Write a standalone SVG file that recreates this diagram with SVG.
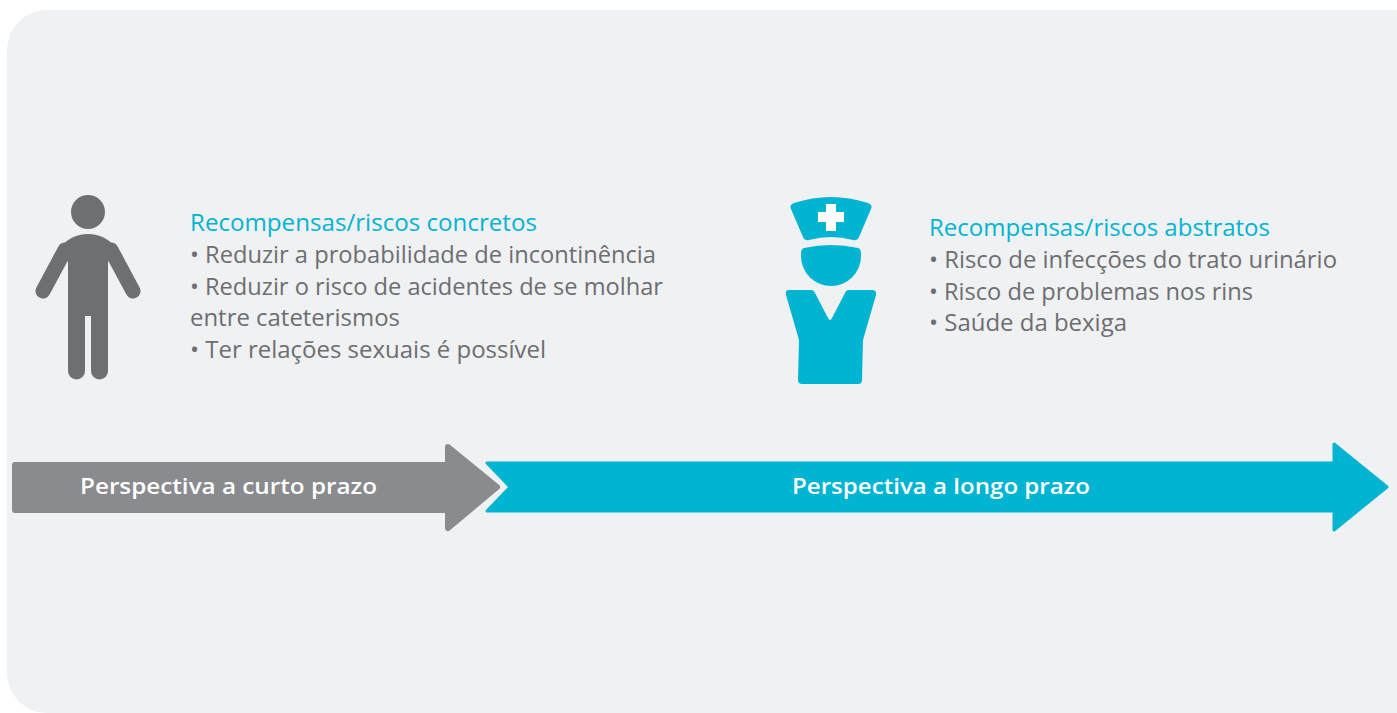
<svg xmlns="http://www.w3.org/2000/svg" width="1397" height="713" viewBox="0 0 1397 713">
<style>
.title{font-family:"Open Sans","Liberation Sans",sans-serif;font-size:23px;fill:#00B4D2}
.item{font-family:"Open Sans","Liberation Sans",sans-serif;font-size:23px;fill:#6D6E71}
.lbl{font-family:"Open Sans","Liberation Sans",sans-serif;font-size:21px;font-weight:600;fill:#FFFFFF}
.person{fill:#6E6F72}
.nurse{fill:#00B4D2}
</style>
<rect x="0" y="0" width="1397" height="713" fill="#FFFFFF"/>
<rect x="7" y="10" width="1433" height="703" rx="40" ry="40" fill="#F0F1F3"/>

<g id="person">
  <circle class="person" cx="88" cy="212" r="17"/>
  <path class="person" d="M58,250 Q70,234 88,234 Q106,234 118,250 L108,262 L108,316 L68,316 L68,262 Z"/>
  <line x1="65" y1="250" x2="43" y2="291" stroke="#6E6F72" stroke-width="15" stroke-linecap="round"/>
  <line x1="111" y1="250" x2="133" y2="291" stroke="#6E6F72" stroke-width="15" stroke-linecap="round"/>
  <line x1="76.5" y1="300" x2="76.5" y2="371" stroke="#6E6F72" stroke-width="17" stroke-linecap="round"/>
  <line x1="99.5" y1="300" x2="99.5" y2="371" stroke="#6E6F72" stroke-width="17" stroke-linecap="round"/>
</g>

<g id="concretos">
  <text class="title" x="190" y="231" textLength="347" lengthAdjust="spacingAndGlyphs">Recompensas/riscos concretos</text>
  <text class="item" x="190" y="263" textLength="466" lengthAdjust="spacingAndGlyphs">• Reduzir a probabilidade de incontinência</text>
  <text class="item" x="190" y="295" textLength="473" lengthAdjust="spacingAndGlyphs">• Reduzir o risco de acidentes de se molhar</text>
  <text class="item" x="190" y="326" textLength="210" lengthAdjust="spacingAndGlyphs">entre cateterismos</text>
  <text class="item" x="190" y="358" textLength="356" lengthAdjust="spacingAndGlyphs">• Ter relações sexuais é possível</text>
</g>

<g id="nurse">
  <path class="nurse" d="M794,203 Q831,191 868,203 Q873,205 871,209 L859,237 Q857,241 853,240 Q831,234 809,240 Q805,241 803,237 L791,209 Q789,205 794,203 Z"/>
  <path fill="#FFFFFF" d="M826,204 H836 V212 H844 V222 H836 V231 H826 V222 H818 V212 H826 Z"/>
  <path class="nurse" d="M804,248 Q831,242 858,248 Q861,249 861,253 L861,256 A30,30 0 0 1 801,256 L801,253 Q801,249 804,248 Z"/>
  <path class="nurse" d="M789,290 L811,290 Q814,290 815,293 L828,318 Q830,322 832,318 L845,293 Q846,290 849,290 L872,290 Q877,290 876,295 L863,340 L862,380 Q862,384 858,384 L802,384 Q798,384 798,380 L799,340 L786,295 Q785,290 789,290 Z"/>
</g>

<g id="connectors">
  <path id="arrow-short" d="M15,465 L448,465 L448,447 L497,487 L448,528 L448,510 L15,510 Z" fill="#8A8B8E" stroke="#8A8B8E" stroke-width="6" stroke-linejoin="round"/>
  <path id="arrow-long" d="M487,463 L1334,463 L1334,444 L1387,487 L1334,530 L1334,511 L487,511 L510,487 Z" fill="#00B4D2" stroke="#00B4D2" stroke-width="3" stroke-linejoin="round"/>
</g>

<g id="labels">
  <text class="lbl" x="80" y="494" textLength="297" lengthAdjust="spacingAndGlyphs">Perspectiva a curto prazo</text>
  <text class="lbl" x="792" y="494" textLength="298" lengthAdjust="spacingAndGlyphs">Perspectiva a longo prazo</text>
</g>

<g id="abstratos">
  <text class="title" x="929" y="236" textLength="341" lengthAdjust="spacingAndGlyphs">Recompensas/riscos abstratos</text>
  <text class="item" x="929" y="268" textLength="408" lengthAdjust="spacingAndGlyphs">• Risco de infecções do trato urinário</text>
  <text class="item" x="929" y="300" textLength="324" lengthAdjust="spacingAndGlyphs">• Risco de problemas nos rins</text>
  <text class="item" x="929" y="331" textLength="198" lengthAdjust="spacingAndGlyphs">• Saúde da bexiga</text>
</g>
</svg>
